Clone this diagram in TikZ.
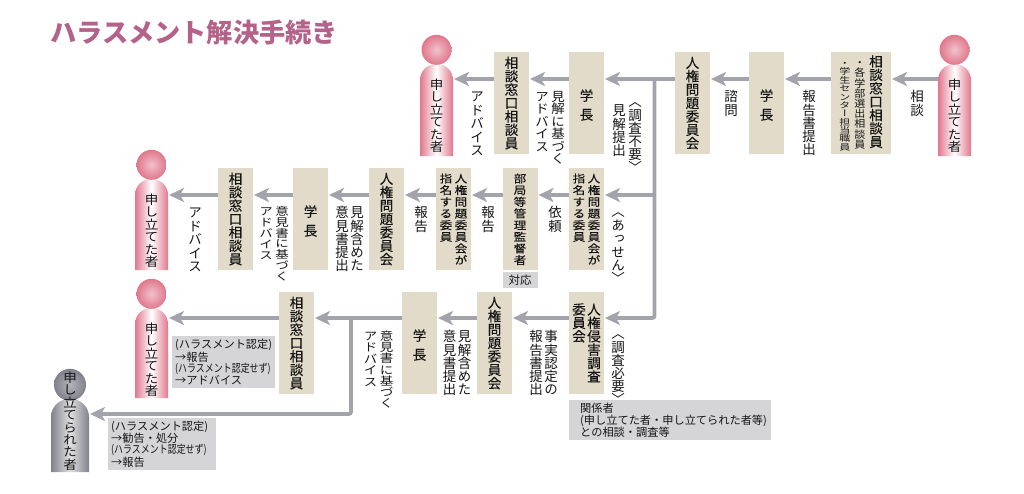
\documentclass[tikz,border=0pt]{standalone}
\usepackage{fontspec}
\usepackage{tikz}
\usetikzlibrary{positioning,arrows.meta,calc}
\usepackage{xcolor}
\newfontfamily\jpfont{Noto Sans CJK JP}
\newfontfamily\tatefont[RawFeature=+vert]{Noto Sans CJK JP}
\newfontfamily\tateheavy[RawFeature=+vert,FakeBold=.2]{Noto Sans CJK JP}
\definecolor{titlec}{HTML}{B5628A}
\definecolor{boxc}{HTML}{E2DBC9}
\definecolor{notec}{HTML}{D5D5D7}
\definecolor{flowc}{HTML}{A3A3AB}
\definecolor{inkc}{HTML}{151515}
\definecolor{pinkc}{HTML}{E0778C}
\definecolor{greyc}{HTML}{80818C}
\makeatletter
\newcommand\tate[2][13.4]{\vtop{\offinterlineskip\@tfor\tatech:=#2\do{%
  \hbox to 1em{\hss\vrule width 0pt height .88\dimexpr#1pt\relax depth .12\dimexpr#1pt\relax\smash{\tatech}\hss}}}}
\makeatother
\newcommand\tatesq[2][.87]{\scalebox{1}[#1]{\tate{#2}}}
\tikzset{
  stepbox/.style={rectangle, fill=boxc, inner sep=0pt, outer sep=0pt, minimum width=35pt, minimum height=102pt,
              text=inkc, font=\fontsize{13.5}{13.5}\selectfont\tateheavy},
  smallstep/.style={stepbox, font=\fontsize{12.5}{12.5}\selectfont\tateheavy},
  lab/.style={inner sep=0pt, anchor=north, text=inkc, font=\fontsize{13.5}{13.5}\selectfont\tatefont},
  notebox/.style={fill=notec, inner ysep=0pt, align=left, anchor=north west, text=inkc,
              font=\fontsize{11.2}{11}\selectfont\jpfont},
  flow/.style={draw=flowc, line width=3.6pt, -{Stealth[length=15pt,width=14pt,inset=4pt]}, shorten >=1pt},
  redbody/.style={left color=pinkc, right color=pinkc, middle color=white},
  graybody/.style={left color=greyc, right color=greyc, middle color=black!12},
  redhead/.style={circle, inner sep=0pt, minimum size=30pt, inner color=pinkc!45, outer color=pinkc},
  grayhead/.style={circle, inner sep=0pt, minimum size=32pt, inner color=greyc!60, outer color=greyc},
  bodybox/.style={rectangle, inner sep=0pt, outer sep=0pt, minimum width=33pt},
}
\begin{document}
\begin{tikzpicture}[x=1pt,y=-1pt]
\useasboundingbox (0,0) rectangle (1024,493);
\node[anchor=west, inner sep=0pt, text=titlec, font=\fontsize{26.2}{26}\selectfont\jpfont\bfseries] (title) at (50,33) {ハラスメント解決手続き};
\coordinate (row1) at (0,79);
\coordinate (row2) at (0,195);
\coordinate (row3) at (0,318);
\coordinate (row4) at (0,414);
\coordinate (trunk) at (654.5,79);
\coordinate (fork) at (351,318);
% people
\node[bodybox, minimum height=92pt] (p1) at (954.5,110) {};
\node[bodybox, minimum height=92pt] (p2) at (436.5,110) {};
\node[bodybox, minimum height=91pt] (p3) at (151.5,224.5) {};
\node[bodybox, minimum height=90pt] (p4) at (151.5,353) {};
\node[bodybox, minimum width=38pt, minimum height=73pt] (p5) at (70,435.5) {};
\foreach \pn in {p1,p2,p3,p4}{
  \shade[redbody] (\pn.south west) [rounded corners=16pt] -- (\pn.north west) -- (\pn.north east) [sharp corners] -- (\pn.south east) -- cycle;
  \node[redhead, above=-1pt of \pn] (\pn h) {};
  \node[lab, below=14pt of \pn.north] (\pn t) {\tatesq[.93]{申し立てた者}};
}
\shade[graybody] (p5.south west) [rounded corners=18pt] -- (p5.north west) -- (p5.north east) [sharp corners] -- (p5.south east) -- cycle;
\node[grayhead, above=-2pt of p5] (p5h) {};
\node[lab, anchor=north] (p5t) at (70,371) {\tatesq[.93]{申し立てられた者}};
% first row
\node[stepbox, minimum width=60pt] (sodan) at (861,103) {%
  {\fontsize{11}{11}\selectfont\tatefont\scalebox{1}[.76]{\tate[11]{・学生センター担当職員}}\hspace{4pt}%
  \scalebox{1}[.93]{\tate[11]{・各学部選出相談員}}}\hspace{4pt}\tate{相談窓口相談員}};
\node[stepbox, left=47pt of sodan] (gaku1) {\tate[19]{学長}};
\node[stepbox, left=39pt of gaku1] (jinken1) {\tate{人権問題委員会}};
\node[stepbox, left=71pt of jinken1] (gaku2) {\tate[19]{学長}};
\node[stepbox, left=40pt of gaku2] (sodan2) {\tate{相談窓口相談員}};
% second row
\node[smallstep] (shimei1) at (586.5,219) {\tatesq{指名する委員}\hspace{2.5pt}\tatesq{人権問題委員会が}};
\node[smallstep, left=31.5pt of shimei1] (bukyoku) {\tatesq{部局等管理監督者}};
\node[smallstep, left=31.5pt of bukyoku] (shimei2) {\tatesq{指名する委員}\hspace{2.5pt}\tatesq{人権問題委員会が}};
\node[stepbox, left=32pt of shimei2] (jinken2) {\tate{人権問題委員会}};
\node[stepbox, left=41pt of jinken2] (gaku3) {\tate[19]{学長}};
\node[stepbox, left=40pt of gaku3] (sodan3) {\tate{相談窓口相談員}};
\node[notebox, anchor=north, inner sep=0pt, outer sep=0pt, align=center, minimum width=35pt, minimum height=16pt, font=\fontsize{11.5}{12}\selectfont\jpfont] (taio) at ($(bukyoku.south)+(0,2)$) {対応};
% third row
\node[stepbox] (chosa) at (586.5,343) {\tate{委員会}\hspace{1.5pt}\tate{人権侵害調査}};
\node[stepbox, left=57pt of chosa] (jinken3) {\tate{人権問題委員会}};
\node[stepbox, left=40pt of jinken3] (gaku4) {\tate[19]{学長}};
\node[stepbox, left=88pt of gaku4] (sodan4) {\tate{相談窓口相談員}};
% notes
\node[notebox, minimum width=202pt, minimum height=40pt, text width=180pt, font=\fontsize{11.2}{12}\selectfont\jpfont] (kankei) at (569,400) {関係者\\(申し立てた者・申し立てられた者等)\\との相談・調査等};
\node[notebox, minimum width=103pt, minimum height=52pt, text width=97pt, inner xsep=3pt] (note1) at (172,336) {(ハラスメント認定)\\→報告\\\scalebox{.8}[1]{(ハラスメント認定せず)}\\→アドバイス};
\node[notebox, minimum width=108pt, minimum height=52pt, text width=102pt, inner xsep=3pt] (note2) at (108,418) {(ハラスメント認定)\\→勧告・処分\\\scalebox{.8}[1]{(ハラスメント認定せず)}\\→報告};
% labels
\node[lab] (l1) at (917,90) {\tate{相談}};
\node[lab] (l2) at (809,90) {\tate[13.2]{報告書提出}};
\node[lab] (l3) at (731,90) {\tate{諮問}};
\node[lab] (l4a) at (635,95) {\tate[13.2]{〈調査不要〉}};
\node[lab] (l4b) at (619,104) {\tate[13.2]{見解提出}};
\node[lab] (l5) at (550,90) {\tatesq[.93]{アドバイス}\hspace{2.5pt}\tatesq[.93]{見解に基づく}};
\node[lab] (l6) at (477,90) {\tate{アドバイス}};
\node[lab] (l7) at (618,205) {\tate[13.4]{〈あっせん〉}};
\node[lab] (l8) at (555,206) {\tate{依頼}};
\node[lab] (l9) at (488,206) {\tate{報告}};
\node[lab] (l10) at (421,206) {\tate{報告}};
\node[lab] (l11) at (349.5,206) {\tate[13.2]{意見書提出}\hspace{1.5pt}\tate[13.2]{見解含めた}};
\node[lab] (l12) at (274,206) {\tatesq[.81]{アドバイス}\hspace{2.5pt}\tatesq[.8]{意見書に基づく}};
\node[lab] (l13) at (195,206) {\tate{アドバイス}};
\node[lab] (l14) at (618,327) {\tate[13.2]{〈調査必要〉}};
\node[lab] (l15) at (543.5,330) {\tate[13.2]{報告書提出}\hspace{1.5pt}\tate[13.2]{事実認定の}};
\node[lab] (l16) at (457,330) {\tate[13.2]{意見書提出}\hspace{1.5pt}\tate[13.2]{見解含めた}};
\node[lab] (l17) at (378.5,330) {\tatesq[.86]{アドバイス}\hspace{2.5pt}\tatesq[.84]{意見書に基づく}};
% connectors
\draw[flow] (p1.west |- row1) -- (sodan.east |- row1);
\draw[flow] (sodan.west |- row1) -- (gaku1.east |- row1);
\draw[flow] (gaku1.west |- row1) -- (jinken1.east |- row1);
\draw[flow] (jinken1.west |- row1) -- (gaku2.east |- row1);
\draw[flow] (gaku2.west |- row1) -- (sodan2.east |- row1);
\draw[flow] (sodan2.west |- row1) -- (p2.east |- row1);
\draw[flow] (trunk |- row2) -- (shimei1.east |- row2);
\draw[flow] (shimei1.west |- row2) -- (bukyoku.east |- row2);
\draw[flow] (bukyoku.west |- row2) -- (shimei2.east |- row2);
\draw[flow] (shimei2.west |- row2) -- (jinken2.east |- row2);
\draw[flow] (jinken2.west |- row2) -- (gaku3.east |- row2);
\draw[flow] (gaku3.west |- row2) -- (sodan3.east |- row2);
\draw[flow] (sodan3.west |- row2) -- (p3.east |- row2);
\draw[flow, rounded corners=2pt] (trunk) -- (trunk |- row3) -- (chosa.east |- row3);
\draw[flow] (chosa.west |- row3) -- (jinken3.east |- row3);
\draw[flow] (jinken3.west |- row3) -- (gaku4.east |- row3);
\draw[flow] (gaku4.west |- row3) -- (sodan4.east |- row3);
\draw[flow] (sodan4.west |- row3) -- (p4.east |- row3);
\draw[flow, rounded corners=2pt] (fork) -- (fork |- row4) -- (p5.east |- row4);
\end{tikzpicture}
\end{document}
